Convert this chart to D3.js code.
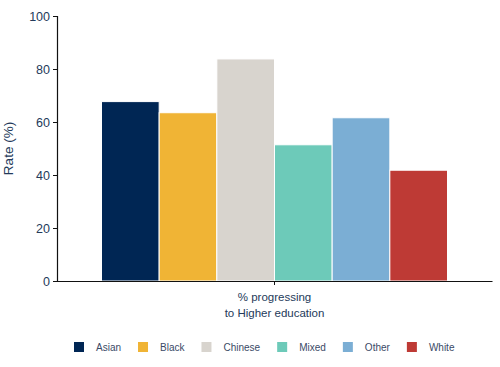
<!DOCTYPE html>
<html>
<head>
<meta charset="utf-8">
<script src="https://cdn.jsdelivr.net/npm/d3@7"></script>
<style>
  html, body { margin: 0; padding: 0; background: #fff; }
  svg { display: block; font-family: "Liberation Sans", Arial, sans-serif; }
</style>
</head>
<body>
<svg id="chart" width="500" height="367"></svg>
<script>
const groups = ["% progressing to Higher education"];
const groupLines = ["% progressing", "to Higher education"];
const ethnicities = ["Asian", "Black", "Chinese", "Mixed", "Other", "White"];
const rates = [67.7, 63.5, 83.8, 51.4, 61.6, 41.8];
const colors = ["#002654", "#F0B435", "#D8D4CE", "#6DCAB9", "#7BAED4", "#BE3A35"];
const yTicks = [0, 20, 40, 60, 80, 100];

const textColor = "#243a5a";
const svg = d3.select("#chart");
const m = { left: 57, right: 8, top: 16, bottom: 86 };
const W = 500, H = 367;
const x0 = d3.scaleBand().domain(groups).range([m.left, W - m.right]).paddingInner(0).paddingOuter(0.1286);
const x1 = d3.scaleBand().domain(ethnicities).range([0, x0.bandwidth()]).padding(0);
const y = d3.scaleLinear().domain([0, 100]).range([H - m.bottom, m.top]);

// bars
const g = svg.append("g");
groups.forEach(grp => {
  g.selectAll("rect.b").data(ethnicities).enter().append("rect")
    .attr("x", d => x0(grp) + x1(d))
    .attr("y", (d, i) => y(rates[i]))
    .attr("width", x1.bandwidth())
    .attr("height", (d, i) => y(0) - y(rates[i]))
    .attr("fill", (d, i) => colors[i])
    .attr("stroke", "#ffffff")
    .attr("stroke-width", 1);
});

// y axis
const yAxis = svg.append("g").attr("transform", `translate(${m.left},0)`)
  .call(d3.axisLeft(y).tickValues(yTicks).tickSize(4).tickPadding(3));
yAxis.select(".domain").attr("stroke", "#111").attr("stroke-width", 1.2);
yAxis.selectAll(".tick line").attr("stroke", "#111");
yAxis.selectAll(".tick text").attr("fill", textColor).style("font-size", "12.5px")
  .style("font-family", "'Liberation Sans', Arial, sans-serif");

// x axis
const xAxis = svg.append("g").attr("transform", `translate(0,${y(0)})`)
  .call(d3.axisBottom(x0).tickSize(4).tickSizeOuter(0).tickFormat(""));
xAxis.select(".domain").attr("stroke", "#111").attr("stroke-width", 1.2);
xAxis.selectAll(".tick line").attr("stroke", "#111");

// x labels
const xl = svg.append("text").attr("text-anchor", "middle").attr("fill", textColor)
  .style("font-size", "11.5px");
groupLines.forEach((t, i) => {
  xl.append("tspan").attr("x", x0(groups[0]) + x0.bandwidth() / 2).attr("y", 301 + i * 16).text(t);
});

// y title
svg.append("text").attr("transform", `translate(13,${(y(0) + y(100)) / 2}) rotate(-90)`)
  .attr("text-anchor", "middle").attr("fill", textColor).style("font-size", "13.5px")
  .text("Rate (%)");

// legend
const leg = svg.append("g").attr("transform", "translate(74,342)");
let lx = 0;
ethnicities.forEach((e, i) => {
  const it = leg.append("g").attr("transform", `translate(${lx},0)`);
  it.append("rect").attr("width", 10).attr("height", 10).attr("fill", colors[i]);
  const t = it.append("text").attr("x", 22).attr("y", 9).attr("fill", "#3a4a66")
    .style("font-size", "10px").text(e);
  lx += 22 + t.node().getComputedTextLength() + 17;
});
</script>
</body>
</html>
